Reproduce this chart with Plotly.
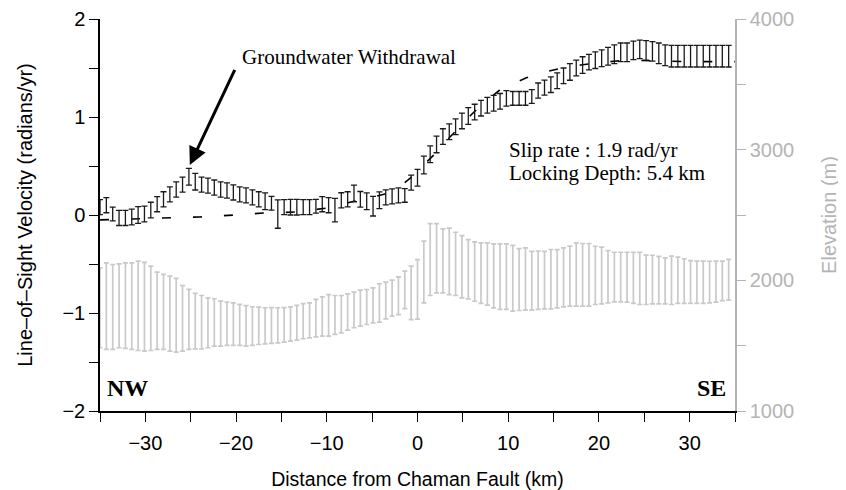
import plotly.graph_objects as go

# distance along profile (km), 0.7 km sampling
distance_km = [-35.0, -34.3, -33.6, -32.9, -32.2, -31.5, -30.8, -30.1, -29.4, -28.7,
               -28.0, -27.3, -26.6, -25.9, -25.2, -24.5, -23.8, -23.1, -22.4, -21.7,
               -21.0, -20.3, -19.6, -18.9, -18.2, -17.5, -16.8, -16.1, -15.4, -14.7,
               -14.0, -13.3, -12.6, -11.9, -11.2, -10.5, -9.8, -9.1, -8.4, -7.7,
               -7.0, -6.3, -5.6, -4.9, -4.2, -3.5, -2.8, -2.1, -1.4, -0.7,
               0.0, 0.7, 1.4, 2.1, 2.8, 3.5, 4.2, 4.9, 5.6, 6.3,
               7.0, 7.7, 8.4, 9.1, 9.8, 10.5, 11.2, 11.9, 12.6, 13.3,
               14.0, 14.7, 15.4, 16.1, 16.8, 17.5, 18.2, 18.9, 19.6, 20.3,
               21.0, 21.7, 22.4, 23.1, 23.8, 24.5, 25.2, 25.9, 26.6, 27.3,
               28.0, 28.7, 29.4, 30.1, 30.8, 31.5, 32.2, 32.9, 33.6, 34.3]

# line-of-sight velocity (radians/yr) and its uncertainty
los_velocity = [0.08, 0.10, 0.01, -0.03, -0.03, -0.02, 0.00, 0.01, 0.05, 0.11,
                0.16, 0.21, 0.26, 0.31, 0.39, 0.34, 0.31, 0.30, 0.28, 0.26,
                0.25, 0.23, 0.21, 0.20, 0.18, 0.16, 0.14, 0.12, 0.01, 0.08,
                0.08, 0.08, 0.08, 0.08, 0.09, 0.11, 0.10, 0.05, 0.15, 0.16,
                0.22, 0.16, 0.14, 0.09, 0.15, 0.18, 0.19, 0.20, 0.20, 0.33,
                0.38, 0.51, 0.62, 0.72, 0.80, 0.85, 0.90, 0.96, 1.01, 1.05,
                1.09, 1.12, 1.14, 1.16, 1.19, 1.19, 1.19, 1.19, 1.21, 1.27,
                1.30, 1.33, 1.37, 1.42, 1.46, 1.50, 1.53, 1.56, 1.58, 1.60,
                1.62, 1.64, 1.66, 1.66, 1.68, 1.69, 1.68, 1.67, 1.65, 1.63,
                1.62, 1.62, 1.62, 1.62, 1.62, 1.62, 1.62, 1.62, 1.62, 1.62]
los_error = [0.077, 0.077, 0.070, 0.077, 0.077, 0.080, 0.085, 0.080, 0.080, 0.077,
             0.077, 0.077, 0.077, 0.077, 0.085, 0.085, 0.077, 0.077, 0.077, 0.077,
             0.077, 0.077, 0.077, 0.077, 0.077, 0.077, 0.085, 0.070, 0.145, 0.077,
             0.080, 0.080, 0.077, 0.077, 0.070, 0.077, 0.077, 0.120, 0.077, 0.077,
             0.085, 0.080, 0.085, 0.100, 0.085, 0.077, 0.077, 0.077, 0.070, 0.077,
             0.085, 0.090, 0.085, 0.085, 0.080, 0.080, 0.080, 0.080, 0.085, 0.080,
             0.080, 0.080, 0.080, 0.080, 0.080, 0.070, 0.070, 0.070, 0.070, 0.077,
             0.077, 0.080, 0.080, 0.080, 0.085, 0.080, 0.085, 0.080, 0.085, 0.085,
             0.090, 0.095, 0.095, 0.095, 0.095, 0.095, 0.100, 0.100, 0.105, 0.105,
             0.110, 0.110, 0.110, 0.110, 0.110, 0.110, 0.110, 0.110, 0.110, 0.110]

# elevation (m) and its spread
elevation_m = [1790, 1802, 1796, 1805, 1806, 1802, 1805, 1798, 1786, 1767,
               1758, 1745, 1733, 1709, 1701, 1688, 1680, 1675, 1678, 1669,
               1668, 1665, 1659, 1652, 1650, 1652, 1652, 1654, 1656, 1659,
               1666, 1675, 1687, 1694, 1711, 1723, 1732, 1735, 1741, 1758,
               1773, 1787, 1796, 1809, 1827, 1846, 1864, 1882, 1927, 1904,
               1931, 2064, 2159, 2169, 2149, 2145, 2126, 2104, 2085, 2067,
               2055, 2048, 2034, 2028, 2028, 2016, 2006, 2010, 1997, 2000,
               2002, 2009, 2012, 2023, 2032, 2044, 2042, 2042, 2038, 2037,
               2028, 2025, 2025, 2024, 2019, 2015, 2004, 2006, 2002, 1996,
               2000, 2000, 1994, 1987, 1985, 1985, 1987, 1990, 1996, 2004]
elevation_err = [306, 331, 325, 321, 327, 331, 342, 340, 323, 296,
                 287, 287, 282, 251, 230, 212, 204, 191, 181, 172,
                 166, 163, 157, 155, 148, 143, 138, 137, 134, 132,
                 131, 133, 134, 134, 143, 150, 159, 149, 143, 139,
                 136, 138, 134, 134, 147, 141, 138, 144, 144, 204,
                 228, 236, 275, 265, 245, 254, 242, 238, 227, 227,
                 232, 238, 245, 251, 251, 252, 237, 238, 225, 223,
                 220, 227, 223, 226, 230, 242, 240, 240, 223, 217,
                 200, 190, 190, 191, 196, 200, 189, 186, 182, 176,
                 185, 177, 171, 164, 162, 162, 159, 157, 151, 156]

# elastic dislocation model (dashed)
model_km = [-35, -30, -27, -24, -20, -17, -13.5, -10, -7, -5, -3.4, -2, -1, 0, 1, 2,
            3, 4, 5, 6, 7, 8, 9, 10, 12, 14, 16, 18, 20, 23, 26, 30, 35]
model_velocity = [-0.05, -0.035, -0.03, -0.02, 0.0, 0.02, 0.03, 0.07, 0.14, 0.18, 0.22,
                  0.29, 0.36, 0.44, 0.54, 0.63, 0.74, 0.84, 0.93, 1.03, 1.12, 1.2,
                  1.27, 1.32, 1.40, 1.46, 1.50, 1.53, 1.555, 1.58, 1.575, 1.565, 1.565]

GRAY = "#c9c9c9"
AXGRAY = "#b4b4b4"
SANS = "Liberation Sans, Arial, Helvetica, sans-serif"
SERIF = "Liberation Serif, Times New Roman, serif"

fig = go.Figure()

fig.add_trace(go.Scatter(
    x=distance_km, y=elevation_m, yaxis="y2", mode="markers",
    marker=dict(size=1, color="rgba(0,0,0,0)"),
    error_y=dict(type="data", array=elevation_err, visible=True,
                 color=GRAY, thickness=1.7, width=2.5),
    showlegend=False, hoverinfo="skip"))

fig.add_trace(go.Scatter(
    x=model_km, y=model_velocity, mode="lines",
    line=dict(color="black", width=1.6, dash="9px,22px"),
    showlegend=False, hoverinfo="skip"))

fig.add_trace(go.Scatter(
    x=distance_km, y=los_velocity, mode="markers",
    marker=dict(size=1, color="rgba(0,0,0,0)"),
    error_y=dict(type="data", array=los_error, visible=True,
                 color="#1a1a1a", thickness=1.3, width=3),
    showlegend=False, hoverinfo="skip"))

fig.add_annotation(x=-25.1, y=0.51, ax=-20.07, ay=1.497, axref="x", ayref="y",
                   text="", showarrow=True, arrowhead=2, arrowsize=1.2,
                   arrowwidth=3, arrowcolor="black")
fig.add_annotation(x=-19.6, y=1.615, text="Groundwater Withdrawal", showarrow=False,
                   xanchor="left", yanchor="middle",
                   font=dict(family=SERIF, size=21, color="black"))
fig.add_annotation(x=9.9, y=0.663, text="Slip rate : 1.9 rad/yr", showarrow=False,
                   xanchor="left", yanchor="middle",
                   font=dict(family=SERIF, size=21, color="black"))
fig.add_annotation(x=9.9, y=0.425, text="Locking Depth: 5.4 km", showarrow=False,
                   xanchor="left", yanchor="middle",
                   font=dict(family=SERIF, size=21, color="black"))
fig.add_annotation(x=-34.5, y=-1.765, text="<b>NW</b>", showarrow=False,
                   xanchor="left", yanchor="middle",
                   font=dict(family=SERIF, size=24, color="black"))
fig.add_annotation(x=34.2, y=-1.765, text="<b>SE</b>", showarrow=False,
                   xanchor="right", yanchor="middle",
                   font=dict(family=SERIF, size=24, color="black"))

# the page body adds an 8 px offset; size/margins compensate so the plot
# area sits at x 100-735, y 19-411 of the 846x490 window
fig.update_layout(
    width=838, height=482,
    margin=dict(l=92, r=111, t=11, b=79, autoexpand=False),
    paper_bgcolor="white", plot_bgcolor="white",
    font=dict(family=SANS, size=20, color="black"),
    xaxis=dict(range=[-35, 35], tick0=0, dtick=10, showgrid=False, zeroline=False,
               automargin=False, ticklabelstandoff=4,
               showline=True, linecolor="black", linewidth=1.5,
               ticks="outside", ticklen=9, tickwidth=1.3, tickcolor="black",
               minor=dict(dtick=5, ticks="outside", ticklen=9, tickwidth=1.3,
                          tickcolor="black"),
               title=dict(text="Distance from Chaman Fault (km)",
                          font=dict(size=19.5), standoff=20)),
    yaxis=dict(range=[-2, 2], tick0=0, dtick=1, showgrid=False, zeroline=False,
               automargin=False,
               showline=True, linecolor="black", linewidth=1.5,
               ticks="outside", ticklen=9, tickwidth=1.3, tickcolor="black",
               minor=dict(dtick=0.5, ticks="outside", ticklen=9, tickwidth=1.3,
                          tickcolor="black"),
               title=dict(text="Line\u2013of\u2013Sight Velocity (radians/yr)",
                          font=dict(size=20), standoff=24)),
    yaxis2=dict(range=[1000, 4000], tick0=0, dtick=1000, overlaying="y", side="right",
                automargin=False,
                showgrid=False, zeroline=False,
                showline=True, linecolor=AXGRAY, linewidth=1.5,
                ticks="outside", ticklen=9, tickwidth=1.3, tickcolor=AXGRAY,
                tickfont=dict(color=AXGRAY),
                minor=dict(dtick=500, ticks="outside", ticklen=9, tickwidth=1.3,
                           tickcolor=AXGRAY),
                title=dict(text="Elevation (m)", font=dict(size=20, color=AXGRAY),
                           standoff=29)),
)

fig.write_html("out.html")
